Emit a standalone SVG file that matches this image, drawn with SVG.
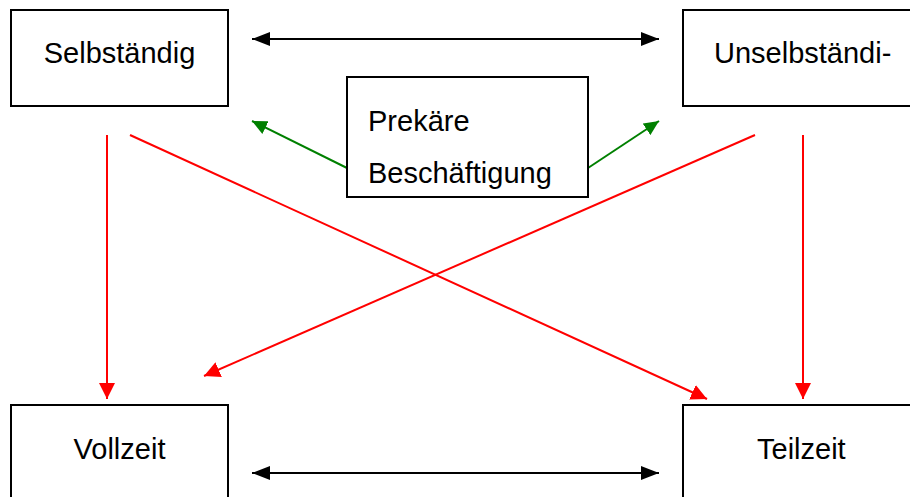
<svg xmlns="http://www.w3.org/2000/svg" width="910" height="497" viewBox="0 0 910 497">
<style>
.box{fill:#fff;stroke:#000;stroke-width:2}
.t{font-family:"Liberation Sans",Arial,sans-serif;font-size:29px;fill:#000}
.blk{stroke:#000;stroke-width:2;fill:none}
.red{stroke:#ff0000;stroke-width:2;fill:none}
.grn{stroke:#008000;stroke-width:2;fill:none}
</style>
<defs>
<marker id="ab" markerUnits="userSpaceOnUse" markerWidth="20" markerHeight="14" refX="18" refY="7" orient="auto-start-reverse"><path d="M0,0 L18,7 L0,14 Z" fill="#000"/></marker>
<marker id="ar" markerUnits="userSpaceOnUse" markerWidth="18" markerHeight="16" refX="16" refY="8" orient="auto"><path d="M0,0 L16,8 L0,16 Z" fill="#ff0000"/></marker>
<marker id="ag" markerUnits="userSpaceOnUse" markerWidth="18" markerHeight="14" refX="15" refY="7" orient="auto"><path d="M0,0 L15,7 L0,14 Z" fill="#008000"/></marker>
</defs>
<g id="connectors">
<line class="blk" x1="252" y1="39" x2="659" y2="39" marker-start="url(#ab)" marker-end="url(#ab)"/>
<line class="blk" x1="252" y1="473" x2="659" y2="473" marker-start="url(#ab)" marker-end="url(#ab)"/>
<line class="grn" x1="347" y1="168" x2="252" y2="121" marker-end="url(#ag)"/>
<line class="grn" x1="588" y1="168" x2="659" y2="121" marker-end="url(#ag)"/>
<line class="red" x1="107" y1="135" x2="107" y2="399" marker-end="url(#ar)"/>
<line class="red" x1="130" y1="135" x2="707" y2="399" marker-end="url(#ar)"/>
<line class="red" x1="803" y1="135" x2="803" y2="399" marker-end="url(#ar)"/>
<line class="red" x1="755" y1="135" x2="204" y2="376" marker-end="url(#ar)"/>
</g>
<g id="selbstaendig">
<rect class="box" x="11" y="10" width="217" height="96"/>
<text class="t" x="119.5" y="63" text-anchor="middle">Selbständig</text>
</g>
<g id="unselbstaendig">
<rect class="box" x="683" y="10" width="240" height="96"/>
<text class="t" x="714" y="63">Unselbständi-</text>
</g>
<g id="prekaer">
<rect class="box" x="347" y="77" width="241" height="120"/>
<text class="t" x="368" y="131">Prekäre</text>
<text class="t" x="368" y="183">Beschäftigung</text>
</g>
<g id="vollzeit">
<rect class="box" x="11" y="405" width="217" height="110"/>
<text class="t" x="119.5" y="459" text-anchor="middle">Vollzeit</text>
</g>
<g id="teilzeit">
<rect class="box" x="683" y="405" width="240" height="110"/>
<text class="t" x="757" y="459">Teilzeit</text>
</g>
</svg>
